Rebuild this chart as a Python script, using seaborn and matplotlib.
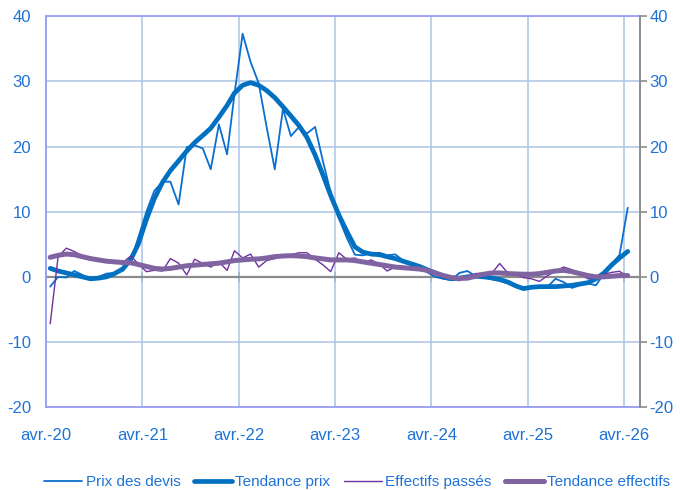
import numpy as np
import pandas as pd
import seaborn as sns
import matplotlib.pyplot as plt
import matplotlib.dates as mdates

# monthly data, avr. 2020 -> avr. 2026
mois = pd.date_range('2020-04-01', periods=73, freq='MS') + pd.Timedelta(days=15)

prix_devis = [-1.5, 0.0, -0.1, 0.9, 0.3, -0.5, 0.0, 0.5, 0.6, 0.9,
              2.5, 6.0, 10.0, 13.2, 14.6, 14.6, 11.1, 19.9, 20.2, 19.7,
              16.5, 23.4, 18.8, 28.0, 37.3, 33.0, 29.7, 23.0, 16.5, 25.8,
              21.6, 23.0, 22.0, 23.0, 17.5, 13.0, 9.0, 6.0, 3.4, 3.3,
              3.6, 3.7, 3.3, 3.45, 2.5, 1.8, 1.3, 0.7, 0.0, -0.3,
              -0.5, 0.6, 0.9, 0.1, 0.1, -0.4, -0.6, -1.0, -1.5, -1.95,
              -1.6, -1.7, -1.5, -0.3, -0.8, -1.7, -1.3, -1.0, -1.3, 0.5,
              2.0, 3.4, 10.6]

tendance_prix = [1.3, 0.9, 0.6, 0.3, 0.0, -0.3, -0.2, 0.0, 0.5, 1.2,
                 2.7, 5.0, 8.8, 12.0, 14.5, 16.3, 17.8, 19.3, 20.6, 21.7,
                 22.8, 24.5, 26.3, 28.2, 29.4, 29.8, 29.4, 28.6, 27.5, 26.1,
                 24.7, 23.2, 21.4, 18.7, 15.5, 12.5, 9.5, 7.0, 4.6, 3.8,
                 3.5, 3.4, 3.1, 2.8, 2.4, 2.0, 1.6, 1.1, 0.6, 0.0,
                 -0.3, -0.2, 0.0, 0.1, 0.0, -0.15, -0.4, -0.8, -1.4, -1.8,
                 -1.6, -1.5, -1.5, -1.5, -1.4, -1.3, -1.1, -0.9, -0.3, 0.6,
                 1.9, 2.9, 3.9]

effectifs = [-7.2, 3.1, 4.4, 3.9, 3.2, 2.8, 2.5, 2.4, 2.2, 2.2,
             3.2, 2.0, 0.8, 1.0, 0.9, 2.8, 2.1, 0.3, 2.7, 2.05,
             1.5, 2.3, 1.0, 4.0, 2.9, 3.5, 1.5, 2.5, 2.8, 3.2,
             3.4, 3.7, 3.7, 2.7, 1.8, 0.8, 3.7, 2.7, 2.9, 2.1,
             2.6, 2.0, 0.9, 1.5, 1.2, 1.3, 1.2, 0.9, 0.5, -0.1,
             -0.2, -0.6, 0.1, 0.5, 0.6, 0.5, 2.05, 0.6, 0.3, -0.1,
             -0.3, -0.7, 0.2, 0.9, 1.5, 1.1, 0.5, -0.3, -0.1, 0.4,
             0.7, 0.85, 0.0]

tendance_effectifs = [3.0, 3.3, 3.5, 3.4, 3.1, 2.8, 2.6, 2.4, 2.3, 2.2,
                      2.15, 1.9, 1.6, 1.3, 1.2, 1.3, 1.5, 1.7, 1.8, 1.9,
                      2.0, 2.1, 2.3, 2.5, 2.6, 2.7, 2.75, 2.9, 3.1, 3.2,
                      3.25, 3.2, 3.1, 2.9, 2.75, 2.6, 2.6, 2.6, 2.5, 2.3,
                      2.1, 1.9, 1.7, 1.5, 1.4, 1.3, 1.2, 1.0, 0.6, 0.2,
                      -0.1, -0.25, -0.2, 0.1, 0.4, 0.6, 0.6, 0.5, 0.45, 0.4,
                      0.4, 0.5, 0.7, 0.9, 1.0, 0.8, 0.5, 0.2, 0.0, 0.0,
                      0.1, 0.2, 0.2]

annees = ['avr.-20', 'avr.-21', 'avr.-22', 'avr.-23', 'avr.-24', 'avr.-25', 'avr.-26']

df = pd.DataFrame({'mois': mois, 'prix': prix_devis, 'tprix': tendance_prix,
                   'eff': effectifs, 'teff': tendance_effectifs})

sns.set_style('white')
plt.rcParams['font.family'] = ['Liberation Sans', 'DejaVu Sans']
plt.rcParams['axes.unicode_minus'] = False

txt = '#1f72d6'
fig, ax = plt.subplots(figsize=(6.8, 4.9), dpi=100)
fig.subplots_adjust(left=0.068, right=0.941, top=0.967, bottom=0.169)

ax.axhline(0, color='#8c8c8c', lw=1.6, zorder=1.5)
sns.lineplot(data=df, x='mois', y='prix', ax=ax, color='#0a6fd0', lw=1.3, label='Prix des devis')
sns.lineplot(data=df, x='mois', y='tprix', ax=ax, color='#0070c0', lw=3.4, label='Tendance prix')
sns.lineplot(data=df, x='mois', y='eff', ax=ax, color='#7030a0', lw=1.0, label='Effectifs passés')
sns.lineplot(data=df, x='mois', y='teff', ax=ax, color='#8064a2', lw=3.6, label='Tendance effectifs')

ax.set_xlim(pd.Timestamp('2020-04-01'), pd.Timestamp('2026-06-01'))
ax.set_ylim(-20, 40)
ax.set_yticks(range(-20, 41, 10))
ticks = mdates.date2num(pd.date_range('2020-04-01', periods=7, freq='12MS'))
ax.set_xticks(ticks)
ax.set_xticklabels(annees)
ax.set_xlabel('')
ax.set_ylabel('')
ax.grid(True, color='#aac3e6', lw=1.1)
ax.set_axisbelow(True)
ax.tick_params(axis='x', length=0, pad=15, labelsize=12, labelcolor=txt)
ax.tick_params(axis='y', length=0, pad=11, labelsize=12, labelcolor=txt)
for s in ['left', 'top', 'bottom']:
    ax.spines[s].set_color('#9a9cf2')
    ax.spines[s].set_linewidth(1.3)
ax.spines['right'].set_visible(False)

# tick marks on the zero line
sec = ax.secondary_xaxis(1 / 3)
sec.set_xticks(ticks)
sec.tick_params(direction='inout', length=7, width=1.2, color='#8c8c8c', labelbottom=False, labeltop=False)
for s in sec.spines.values():
    s.set_visible(False)

ax2 = ax.twinx()
ax2.set_ylim(-20, 40)
ax2.set_yticks(range(-20, 41, 10))
ax2.tick_params(axis='y', length=5, width=1.2, color='#8c8c8c', pad=2, labelsize=12, labelcolor=txt)
for s in ['left', 'top', 'bottom']:
    ax2.spines[s].set_visible(False)
ax2.spines['right'].set_color('#8c8c8c')
ax2.spines['right'].set_linewidth(1.4)

handles, labels = ax.get_legend_handles_labels()
ax.get_legend().remove()
fig.legend(handles, labels, loc='lower center', bbox_to_anchor=(0.525, -0.026), ncol=4,
           frameon=False, fontsize=11, handlelength=2.5, handletextpad=0.2,
           columnspacing=0.9, labelcolor=txt)

fig.savefig('out.png', dpi=100)
